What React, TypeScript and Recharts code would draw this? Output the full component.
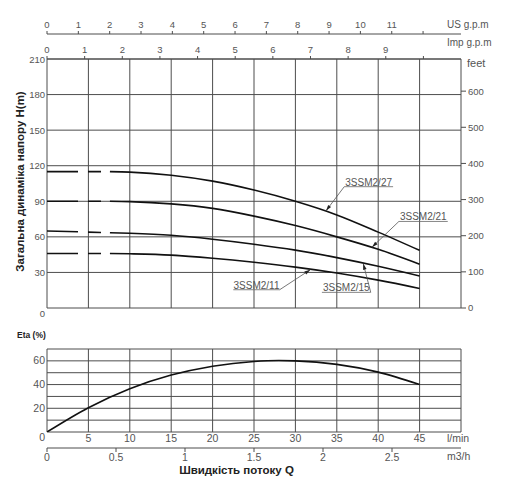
import React from 'react';
import {
  CartesianGrid,
  Label,
  Line,
  LineChart,
  ReferenceLine,
  XAxis,
  YAxis,
} from 'recharts';

// flow in l/min, head in m
const flowSolid = [7.6, 10, 15, 20, 25, 30, 35, 40, 45];
const head27 = [115, 114.6, 112, 107, 99.5, 90, 78.5, 64, 48.6];
const head21 = [90, 89.7, 87.8, 84, 77.5, 69.5, 60, 49.5, 37];
const head15 = [63.5, 63, 61.3, 58, 53.8, 48.8, 42.5, 35.2, 27];
const head11 = [46, 45.7, 44.6, 42, 38.6, 34.5, 29.5, 23.5, 16.5];

const flowDash = [0, 7.6];
const head27Dash = [115, 115];
const head21Dash = [90, 90];
const head15Dash = [65, 63.5];
const head11Dash = [46, 46];

const etaFlow = [0, 5, 10, 15, 20, 25, 28, 30, 35, 40, 45];
const etaValues = [0, 20.5, 36.5, 48, 55.5, 59.5, 60.3, 60, 57, 50.5, 40];

const flowTicks = [0, 5, 10, 15, 20, 25, 30, 35, 40, 45, 50];
const headTicks = [0, 30, 60, 90, 120, 150, 180, 210];
const feetTicks = [0, 100, 200, 300, 400, 500, 600];
const usGpmTicks = [0, 1, 2, 3, 4, 5, 6, 7, 8, 9, 10, 11, 12];
const impGpmTicks = [0, 1, 2, 3, 4, 5, 6, 7, 8, 9, 10];
const etaTicks = [0, 10, 20, 30, 40, 50, 60, 70];
const m3hTicks = [0, 0.5, 1, 1.5, 2, 2.5];

// l/min per unit
const US_GPM = 3.785;
const IMP_GPM = 4.546;
const M3H = 50 / 3;
const M_TO_FT = 3.2808;

const solidRows = flowSolid.map((q, i) => ({
  q,
  h27: head27[i],
  h21: head21[i],
  h15: head15[i],
  h11: head11[i],
}));
const dashRows = flowDash.map((q, i) => ({
  q,
  h27: head27Dash[i],
  h21: head21Dash[i],
  h15: head15Dash[i],
  h11: head11Dash[i],
}));
const etaRows = etaFlow.map((q, i) => ({ q, eta: etaValues[i] }));

// callouts: underline from q1 to q2 at h, leader to the curve
const callouts = [
  { name: '3SSM2/27', q1: 35.9, q2: 41.8, h: 102.3, fromEnd: false, tipQ: 33.7, tipH: 82 },
  { name: '3SSM2/21', q1: 42.5, q2: 48.4, h: 73, fromEnd: false, tipQ: 39.25, tipH: 51.3 },
  { name: '3SSM2/15', q1: 33.2, q2: 39.1, h: 13.2, fromEnd: true, tipQ: 38.2, tipH: 37.3 },
  { name: '3SSM2/11', q1: 22.5, q2: 28.1, h: 15.4, fromEnd: true, tipQ: 31.8, tipH: 32.3 },
];

const tickFont = "'Liberation Sans Narrow', 'Liberation Sans', Arial, sans-serif";
const textFont = "'Liberation Sans', Arial, sans-serif";
const gridColor = '#4d4d4d';
const textColor = '#555';
const curveColor = '#111';

const smallTick = { fill: textColor, fontSize: 9.5, fontFamily: tickFont };
const bottomTick = { fill: textColor, fontSize: 10.5, fontFamily: textFont };

const unitTicks = (list: number[], per: number) => list.map((v) => v * per);
const unitFmt = (per: number, last: number) => (v: number) => {
  const u = Math.round((v / per) * 10) / 10;
  return u === last ? '' : String(u);
};

const leftTick = (p: any, size: number, show: (v: number) => boolean) => {
  const v = p.payload.value;
  if (!show(v)) return <g />;
  return (
    <text
      x={p.x}
      y={p.y}
      dy={v === 0 ? 9 : 3.5}
      textAnchor="end"
      fill={textColor}
      fontSize={size}
      fontFamily={size < 10 ? tickFont : textFont}
    >
      {v}
    </text>
  );
};

const leaderShape = (p: any) => {
  const { x1, y1, x2, y2 } = p;
  const ang = Math.atan2(y2 - y1, x2 - x1);
  const bx = x2 - 6 * Math.cos(ang);
  const by = y2 - 6 * Math.sin(ang);
  const nx = -Math.sin(ang) * 1.8;
  const ny = Math.cos(ang) * 1.8;
  return (
    <g>
      <line x1={x1} y1={y1} x2={x2} y2={y2} stroke="#555" strokeWidth={0.8} />
      <path
        d={`M${x2},${y2}L${bx + nx},${by + ny}L${bx - nx},${by - ny}Z`}
        fill="#222"
      />
    </g>
  );
};

function HeadChart() {
  const curves = ['h27', 'h21', 'h15', 'h11'];
  return (
    <LineChart width={512} height={320} margin={{ top: 4, right: 0, bottom: 12, left: 0 }}>
      <CartesianGrid xAxisId="q" yAxisId="h" stroke={gridColor} />
      <XAxis
        xAxisId="q"
        dataKey="q"
        type="number"
        domain={[0, 50]}
        allowDataOverflow
        ticks={flowTicks}
        hide
      />
      <XAxis
        xAxisId="a_imp"
        orientation="top"
        dataKey="q"
        type="number"
        domain={[0, 50]}
        allowDataOverflow
        ticks={unitTicks(impGpmTicks, IMP_GPM)}
        interval={0}
        height={25}
        tickSize={3}
        tickMargin={3}
        stroke={gridColor}
        tick={smallTick}
        tickFormatter={unitFmt(IMP_GPM, 10)}
      >
        <Label
          content={({ viewBox }: any) => (
            <text
              x={viewBox.x + viewBox.width - 14}
              y={viewBox.y + viewBox.height - 13}
              fill={textColor}
              fontSize={10}
              fontFamily={textFont}
            >
              Imp g.p.m
            </text>
          )}
        />
      </XAxis>
      <XAxis
        xAxisId="b_us"
        orientation="top"
        dataKey="q"
        type="number"
        domain={[0, 50]}
        allowDataOverflow
        ticks={unitTicks(usGpmTicks, US_GPM)}
        interval={0}
        height={30}
        tickSize={3}
        tickMargin={3}
        stroke={gridColor}
        tick={smallTick}
        tickFormatter={unitFmt(US_GPM, 12)}
      >
        <Label
          content={({ viewBox }: any) => (
            <text
              x={viewBox.x + viewBox.width - 14}
              y={viewBox.y + viewBox.height - 6}
              fill={textColor}
              fontSize={10}
              fontFamily={textFont}
            >
              US g.p.m
            </text>
          )}
        />
      </XAxis>
      <YAxis
        yAxisId="h"
        type="number"
        domain={[0, 210]}
        allowDataOverflow
        ticks={headTicks}
        interval={0}
        width={47}
        axisLine={false}
        tickLine={false}
        tickSize={0}
        tickMargin={2}
        tick={(p: any) => leftTick(p, 9.5, () => true)}
      >
        <Label
          content={({ viewBox }: any) => {
            const cy = viewBox.y + viewBox.height / 2 - 2;
            return (
              <text
                x={23.5}
                y={cy}
                transform={`rotate(-90, 23.5, ${cy})`}
                textAnchor="middle"
                fill="#222"
                fontSize={11.5}
                fontWeight="bold"
                fontFamily={textFont}
              >
                Загальна динаміка напору H(m)
              </text>
            );
          }}
        />
      </YAxis>
      <YAxis
        yAxisId="ft"
        orientation="right"
        type="number"
        domain={[0, 210 * M_TO_FT]}
        allowDataOverflow
        ticks={feetTicks}
        interval={0}
        width={51}
        axisLine={false}
        tickSize={5}
        tickMargin={2}
        stroke={gridColor}
        tick={smallTick}
      >
        <Label
          content={({ viewBox }: any) => (
            <text
              x={viewBox.x + 6}
              y={viewBox.y + 7.5}
              fill={textColor}
              fontSize={11}
              fontFamily={textFont}
            >
              feet
            </text>
          )}
        />
      </YAxis>
      {curves.map((k) => (
        <Line
          key={`d-${k}`}
          data={dashRows}
          dataKey={k}
          xAxisId="q"
          yAxisId="h"
          type="linear"
          stroke={curveColor}
          strokeWidth={1.6}
          strokeDasharray="31 10 13 9"
          dot={false}
          activeDot={false}
          isAnimationActive={false}
        />
      ))}
      {curves.map((k) => (
        <Line
          key={`s-${k}`}
          data={solidRows}
          dataKey={k}
          xAxisId="q"
          yAxisId="h"
          type="monotone"
          stroke={curveColor}
          strokeWidth={1.6}
          dot={false}
          activeDot={false}
          isAnimationActive={false}
        />
      ))}
      {callouts.map((c) => (
        <ReferenceLine
          key={`u-${c.name}`}
          xAxisId="q"
          yAxisId="h"
          segment={[
            { x: c.q1, y: c.h },
            { x: c.q2, y: c.h },
          ]}
          stroke="#666"
          strokeWidth={0.8}
          label={{
            value: c.name,
            position: 'top',
            offset: 1,
            fill: textColor,
            fontSize: 10,
            fontFamily: textFont,
          }}
        />
      ))}
      {callouts.map((c) => (
        <ReferenceLine
          key={`l-${c.name}`}
          xAxisId="q"
          yAxisId="h"
          segment={[
            { x: c.fromEnd ? c.q2 : c.q1, y: c.h },
            { x: c.tipQ, y: c.tipH },
          ]}
          shape={leaderShape}
        />
      ))}
    </LineChart>
  );
}

function EtaChart() {
  return (
    <LineChart width={512} height={180} margin={{ top: 29, right: 51, bottom: 38, left: 0 }}>
      <CartesianGrid xAxisId="a_q" yAxisId="eta" stroke={gridColor} />
      <XAxis
        xAxisId="a_q"
        dataKey="q"
        type="number"
        domain={[0, 50]}
        allowDataOverflow
        ticks={flowTicks}
        interval={0}
        height={16}
        axisLine={false}
        tickLine={false}
        tickSize={0}
        tickMargin={2.5}
        tick={bottomTick}
        tickFormatter={(v) => (v === 0 || v === 50 ? '' : String(v))}
      >
        <Label
          content={({ viewBox }: any) => (
            <text
              x={viewBox.x + viewBox.width - 14}
              y={viewBox.y + 10}
              fill={textColor}
              fontSize={10.5}
              fontFamily={textFont}
            >
              l/min
            </text>
          )}
        />
      </XAxis>
      <XAxis
        xAxisId="b_m3h"
        dataKey="q"
        type="number"
        domain={[0, 50]}
        allowDataOverflow
        ticks={unitTicks(m3hTicks, M3H)}
        interval={0}
        height={14}
        tickSize={4}
        tickMargin={1.5}
        stroke={gridColor}
        tick={bottomTick}
        tickFormatter={unitFmt(M3H, 3)}
      >
        <Label
          content={({ viewBox }: any) => (
            <g>
              <text
                x={viewBox.x + viewBox.width - 14}
                y={viewBox.y + 12}
                fill={textColor}
                fontSize={10.5}
                fontFamily={textFont}
              >
                m3/h
              </text>
              <text
                x={236.5}
                y={viewBox.y + 25.5}
                textAnchor="middle"
                fill="#222"
                fontSize={11.5}
                fontWeight="bold"
                fontFamily={textFont}
              >
                Швидкість потоку Q
              </text>
            </g>
          )}
        />
      </XAxis>
      <YAxis
        yAxisId="eta"
        type="number"
        domain={[0, 70]}
        allowDataOverflow
        ticks={etaTicks}
        interval={0}
        width={47}
        axisLine={false}
        tickLine={false}
        tickSize={0}
        tickMargin={2}
        tick={(p: any) => leftTick(p, 10.5, (v) => v % 20 === 0)}
      >
        <Label
          content={({ viewBox }: any) => (
            <text
              x={17}
              y={viewBox.y - 11}
              fill="#222"
              fontSize={8.5}
              fontWeight="bold"
              fontFamily={textFont}
            >
              Eta (%)
            </text>
          )}
        />
      </YAxis>
      <Line
        data={etaRows}
        dataKey="eta"
        xAxisId="a_q"
        yAxisId="eta"
        type="monotone"
        stroke={curveColor}
        strokeWidth={1.6}
        dot={false}
        activeDot={false}
        isAnimationActive={false}
      />
    </LineChart>
  );
}

export default function App() {
  return (
    <div style={{ position: 'absolute', left: 0, top: 0, width: 512, height: 500, background: '#fff' }}>
      <div style={{ position: 'absolute', left: 0, top: 0 }}>
        <HeadChart />
      </div>
      <div style={{ position: 'absolute', left: 0, top: 320 }}>
        <EtaChart />
      </div>
    </div>
  );
}
